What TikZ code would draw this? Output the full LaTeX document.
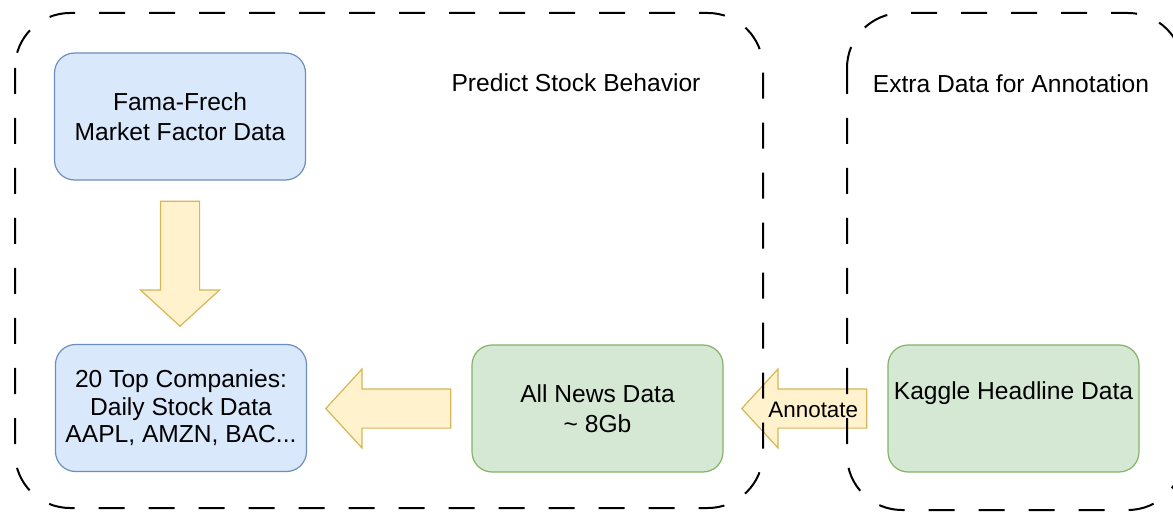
\documentclass[tikz,border=0pt]{standalone}
\usepackage{fontspec}
\setmainfont{Liberation Sans}
\usetikzlibrary{shapes.arrows}

\definecolor{bluefill}{HTML}{DAE8FC}
\definecolor{blueline}{HTML}{6C8EBF}
\definecolor{greenfill}{HTML}{D5E8D4}
\definecolor{greenline}{HTML}{82B366}
\definecolor{arrowfill}{HTML}{FFF2CC}
\definecolor{arrowline}{HTML}{D6B656}

\newcommand{\boxfont}{\fontsize{12.3}{14.8}\selectfont}

\begin{document}
\begin{tikzpicture}[x=0.5pt,y=-0.5pt,
	databox/.style={shape=rectangle,rounded corners=10pt,line width=0.6pt,minimum width=125.5pt,minimum height=63.5pt,align=center,font=\boxfont},
	bluebox/.style={databox,draw=blueline,fill=bluefill},
	greenbox/.style={databox,draw=greenline,fill=greenfill},
	blockarrow/.style={single arrow,draw=arrowline,fill=arrowfill,line width=0.6pt,minimum height=62.5pt,minimum width=39pt,single arrow head extend=10pt,single arrow tip angle=95,inner xsep=0pt,inner ysep=0pt,text height=14pt,text depth=5pt,font=\fontsize{11.2}{13}\selectfont},
	downarrow/.style={blockarrow,shape border rotate=270,text width=19pt,text height=0pt,text depth=0pt},
	frame/.style={draw=black,line width=1pt,dash pattern=on 13pt off 12pt,rounded corners=27.5pt},
	title/.style={font=\boxfont}]
	\useasboundingbox (0,0) rectangle (1173,513);

	\node[bluebox] (fama) at (180, 116.5)    {Fama-Frech\\Market Factor Data};
	\node[bluebox] (top20) at (181, 408)     {20 Top Companies:\\[-1pt]Daily Stock Data\\[-1pt]AAPL, AMZN, BAC...};
	\node[greenbox] (news) at (597.5, 408.5) {All News Data\\\textasciitilde{} 8Gb};
	\node[greenbox,label={[font=\boxfont,yshift=7.5pt]center:Kaggle Headline Data}] (kaggle) at (1013.5, 408.5) {};

	\node[downarrow,anchor=tail] (famaarrow) at ([yshift=-10pt]fama.south) {};
	\node[blockarrow,shape border rotate=180,anchor=tail] (newsarrow) at ([xshift=-10pt]news.west) {};
	\node[blockarrow,shape border rotate=180,anchor=tail] (annotate) at ([xshift=-10pt]kaggle.west) {Annotate};

	\node[title] (predict) at (576, 83)  {Predict Stock Behavior};
	\node[title] (extra) at (1011, 84)   {Extra Data for Annotation};

	% the two groups, drawn last so the dashes stay on top
	\draw[frame] (15,13) rectangle (763,508);
	\draw[frame] (847,13) rectangle (1183,510);
\end{tikzpicture}
\end{document}
